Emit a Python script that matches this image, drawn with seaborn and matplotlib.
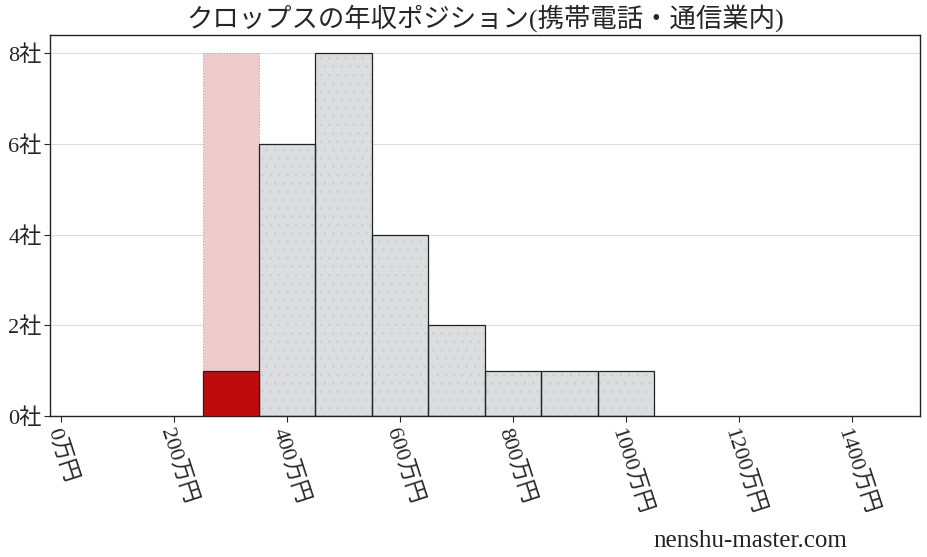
import numpy as np
import matplotlib
matplotlib.use("Agg")
import matplotlib.pyplot as plt
import seaborn as sns

# histogram of annual income (万円) within the industry
bin_edges = [250, 350, 450, 550, 650, 750, 850, 950, 1050]
industry_counts = [8, 6, 8, 4, 2, 1, 1, 1]
# the company's own bin
company_bin = [250, 350]
company_count = [1]
industry_in_company_bin = [8]

x_ticks = [0, 200, 400, 600, 800, 1000, 1200, 1400]
x_labels = [f"{v}万円" for v in x_ticks]
y_ticks = [0, 2, 4, 6, 8]
y_labels = [f"{v}社" for v in y_ticks]

sns.set_style("white")
plt.rcParams["font.family"] = ["Liberation Serif", "Noto Sans CJK JP", "DejaVu Sans"]
plt.rcParams["hatch.linewidth"] = 0.4

fig = plt.figure(figsize=(9.28, 5.57), dpi=100)
ax = fig.add_axes([0.054, 0.253, 0.937, 0.684])

centers = [(a + b) / 2 for a, b in zip(bin_edges[:-1], bin_edges[1:])]
# other bins (hatched grey), skip the company's bin
sns.histplot(x=centers[1:], weights=industry_counts[1:], bins=bin_edges[1:],
             color="#dcdddf", edgecolor="#cbccce", linewidth=0, hatch="..",
             alpha=1, ax=ax, zorder=2)
sns.histplot(x=centers[1:], weights=industry_counts[1:], bins=bin_edges[1:],
             fill=False, color="#222222", linewidth=0.9, alpha=1, ax=ax, zorder=3)

# company bin: pink background for industry, red for the company
sns.histplot(x=[centers[0]], weights=industry_in_company_bin, bins=company_bin,
             color="#f0cbcc", edgecolor="#aaaaaa", linewidth=0.8, linestyle=":",
             alpha=1, ax=ax, zorder=2)
sns.histplot(x=[centers[0]], weights=company_count, bins=company_bin,
             color="#c00b0c", edgecolor="#222222", linewidth=0.9,
             alpha=1, ax=ax, zorder=3)

ax.set_xlim(-20, 1520)
ax.set_ylim(0, 8.4)
ax.set_xticks(x_ticks)
ax.set_xticklabels(x_labels, rotation=-72, ha="left", rotation_mode="anchor", fontsize=16)
ax.set_yticks(y_ticks)
ax.set_yticklabels(y_labels, fontsize=16)
ax.tick_params(axis="x", bottom=True, length=4, pad=3)
ax.tick_params(axis="y", left=True, length=4, pad=2)
ax.set_xlabel("")
ax.set_ylabel("")
ax.grid(axis="y", color="#dddddd", linewidth=0.8, zorder=0)
ax.set_axisbelow(True)
for s in ax.spines.values():
    s.set_color("#222222")
    s.set_linewidth(1.0)

ax.set_title("クロップスの年収ポジション(携帯電話・通信業内)", fontsize=19, pad=6)
fig.text(0.704, 0.018, "nenshu-master.com", fontsize=18, color="#222222")

fig.savefig("out.png", dpi=100)
